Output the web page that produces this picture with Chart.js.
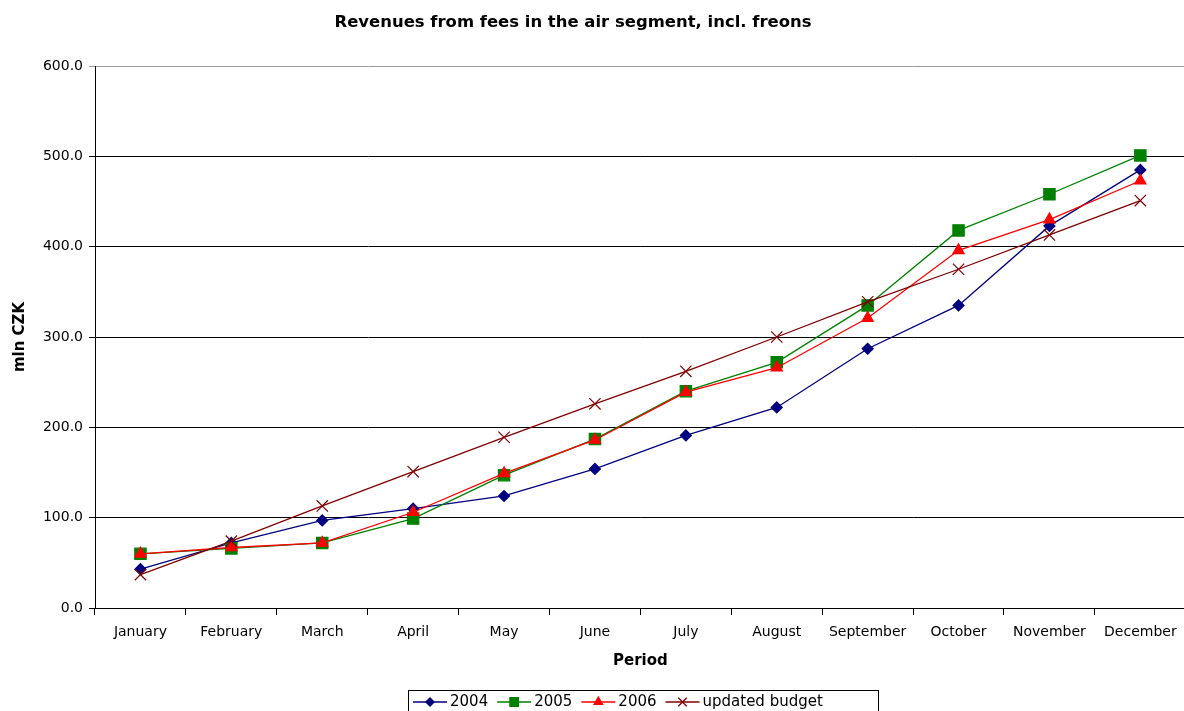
<!DOCTYPE html>
<html>
<head>
<meta charset="utf-8">
<script src="https://cdn.jsdelivr.net/npm/chart.js@4"></script>
<style>
  html, body { margin: 0; padding: 0; background: #fff; overflow: hidden; }
  canvas { display: block; }
</style>
</head>
<body>
<canvas id="chart" width="1195" height="711"></canvas>
<script>
const months = ['January', 'February', 'March', 'April', 'May', 'June', 'July',
  'August', 'September', 'October', 'November', 'December'];

const rev2004 = [43, 72, 97, 110, 124, 154, 191, 222, 287, 335, 423, 485];
const rev2005 = [60, 66, 72, 99, 147, 187, 240, 272, 335, 418, 458, 501];
const rev2006 = [60, 67, 72, 106, 149, 186, 239, 266, 321, 396, 430, 473];
const budget = [37, 74, 113, 151, 189, 226, 262, 300, 339, 375, 413, 451];

const chartTitle = 'Revenues from fees in the air segment, incl. freons';
const FONT = '"DejaVu Sans", Verdana, sans-serif';

// title and boxed legend drawn by hand, Excel style
const excelBits = {
  id: 'excelBits',
  afterDraw(chart) {
    const { ctx } = chart;
    ctx.save();
    ctx.fillStyle = '#000';
    ctx.font = 'bold 15px ' + FONT;
    ctx.textAlign = 'center';
    ctx.textBaseline = 'middle';
    const tw = ctx.measureText(chartTitle).width;
    ctx.translate(573, 23);
    ctx.scale(477 / tw, 1);
    ctx.fillText(chartTitle, 0, 0);
    ctx.restore();

    ctx.save();
    ctx.font = '15px ' + FONT;
    ctx.textAlign = 'left';
    ctx.textBaseline = 'middle';
    const lineLen = 34;
    const top = 690;
    const y = 702;
    ctx.strokeStyle = '#000';
    ctx.lineWidth = 1;
    ctx.strokeRect(408.5, top + 0.5, 470, 30);
    let x = 413;
    chart.data.datasets.forEach((ds) => {
      ctx.strokeStyle = ds.borderColor;
      ctx.lineWidth = 1.3;
      ctx.beginPath();
      ctx.moveTo(x, y);
      ctx.lineTo(x + lineLen, y);
      ctx.stroke();
      ctx.fillStyle = ds.pointBackgroundColor;
      ctx.strokeStyle = ds.pointBorderColor;
      Chart.helpers.drawPoint(ctx, {
        pointStyle: ds.pointStyle,
        radius: ds.pointRadius * 0.75,
        borderWidth: 1,
        rotation: 0,
      }, x + lineLen / 2, y);
      ctx.fillStyle = '#000';
      ctx.fillText(ds.label, x + lineLen + 3, y);
      x += lineLen + 3 + ctx.measureText(ds.label).width + 9;
    });
    ctx.restore();
  },
};

new Chart(document.getElementById('chart'), {
  type: 'line',
  data: {
    labels: months,
    datasets: [
      {
        label: '2004', data: rev2004, order: 3,
        borderColor: '#000080', pointBackgroundColor: '#000080', pointBorderColor: '#000080',
        pointStyle: 'rectRot', pointRadius: 5.5,
      },
      {
        label: '2005', data: rev2005, order: 2,
        borderColor: '#008000', pointBackgroundColor: '#008000', pointBorderColor: '#008000',
        pointStyle: 'rect', pointRadius: 8,
      },
      {
        label: '2006', data: rev2006, order: 1,
        borderColor: '#ff0000', pointBackgroundColor: '#ff0000', pointBorderColor: '#ff0000',
        pointStyle: 'triangle', pointRadius: 6.5,
      },
      {
        label: 'updated budget', data: budget, order: 0,
        borderColor: '#800000', pointBackgroundColor: '#800000', pointBorderColor: '#800000',
        pointStyle: 'crossRot', pointRadius: 8,
      },
    ].map((ds) => ({ ...ds, borderWidth: 1.3, pointBorderWidth: 1.2, tension: 0, fill: false })),
  },
  options: {
    responsive: false,
    devicePixelRatio: 1,
    animation: false,
    layout: { padding: { top: 66, right: 0, bottom: 23, left: 0 } },
    plugins: {
      legend: { display: false },
      title: { display: false },
      tooltip: { enabled: false },
    },
    scales: {
      x: {
        offset: true,
        grid: {
          offset: true,
          drawOnChartArea: false,
          drawTicks: true,
          tickLength: 7,
          color: '#000',
        },
        border: { color: '#000', width: 1 },
        ticks: {
          color: '#000',
          font: { family: FONT, size: 14 },
          padding: 9,
          maxRotation: 0,
          autoSkip: false,
        },
        title: {
          display: true,
          text: 'Period',
          color: '#000',
          font: { family: FONT, size: 15, weight: 'bold' },
          padding: { top: 18, bottom: 18 },
        },
        afterFit(scale) {
          scale.height = 80;
          scale.paddingLeft = 0;
          scale.paddingRight = 0;
        },
      },
      y: {
        min: 0,
        max: 600,
        grid: {
          color: (c) => (c.tick && c.tick.value === 600 ? '#9a9a9a' : '#000'),
          tickLength: 6,
          lineWidth: 1,
        },
        border: { color: '#000', width: 1 },
        ticks: {
          stepSize: 100,
          color: '#000',
          font: { family: FONT, size: 14 },
          padding: 6,
          callback: (v) => v.toFixed(1),
        },
        title: {
          display: true,
          text: 'mln CZK',
          color: '#000',
          font: { family: FONT, size: 15, weight: 'bold' },
          padding: { top: 11, bottom: 11 },
        },
        afterFit(scale) { scale.width = 95; },
      },
    },
  },
  plugins: [excelBits],
});
</script>
</body>
</html>
